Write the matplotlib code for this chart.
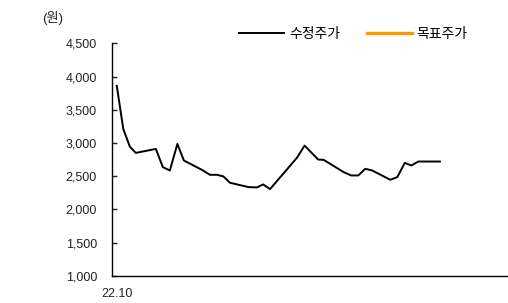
import pandas as pd
import matplotlib
matplotlib.use("Agg")
import matplotlib.pyplot as plt

plt.rcParams['font.family'] = ['Liberation Sans', 'Noto Sans CJK KR', 'DejaVu Sans']

# 수정주가 (adjusted price)
dates = ["2022-10-03", "2022-10-16", "2022-10-29", "2022-11-10", "2022-12-20",
         "2023-01-03", "2023-01-17", "2023-02-01", "2023-02-14", "2023-03-22",
         "2023-04-07", "2023-04-21", "2023-05-04", "2023-05-17", "2023-06-23",
         "2023-07-10", "2023-07-22", "2023-08-05", "2023-09-28", "2023-10-13",
         "2023-11-09", "2023-11-20", "2023-12-30", "2024-01-14", "2024-01-28",
         "2024-02-11", "2024-02-25", "2024-04-01", "2024-04-15", "2024-04-30",
         "2024-05-13", "2024-05-27", "2024-07-09"]
price = [3860, 3210, 2945, 2850, 2910,
         2635, 2585, 2985, 2735, 2595,
         2520, 2520, 2495, 2400, 2335,
         2330, 2375, 2305, 2780, 2960,
         2750, 2745, 2560, 2510, 2510,
         2610, 2585, 2445, 2485, 2700,
         2660, 2720, 2720]
# 목표주가 (target price) - no values shown
target_dates = []
target = []

x_start = "2022-09-24"
x_end = "2024-11-22"
y_ticks = [1000, 1500, 2000, 2500, 3000, 3500, 4000, 4500]

fig = plt.figure(figsize=(5.08, 3.03), dpi=100)
ax = fig.add_axes([0.221, 0.090, 0.779, 0.767])

ax.plot(pd.to_datetime(dates), price, color='black', lw=1.4, label='수정주가')
ax.plot(pd.to_datetime(target_dates), target, color='#FF9900', lw=2.4, label='목표주가')

ax.set_xlim(pd.Timestamp(x_start), pd.Timestamp(x_end))
ax.set_ylim(1000, 4500)
ax.set_yticks(y_ticks)
ax.set_yticklabels([f"{v:,}" for v in y_ticks])
ax.set_xticks([pd.Timestamp(dates[0])])
ax.set_xticklabels(["22.10"])

ax.spines['top'].set_visible(False)
ax.spines['right'].set_visible(False)
ax.spines['left'].set_linewidth(1.0)
ax.spines['bottom'].set_linewidth(1.0)
ax.tick_params(axis='y', direction='in', length=3.6, width=1.0, pad=11, labelsize=9, colors='#222222')
ax.tick_params(axis='x', length=0, pad=8.5, labelsize=9, colors='#222222')

fig.text(0.082, 0.94, "(원)", fontsize=9.5, ha='left', va='center', color='#222222')

fig.legend(loc='center', bbox_to_anchor=(0.6955, 0.887), ncol=2, frameon=False,
           fontsize=10, handlelength=3.25, handletextpad=0.36, columnspacing=1.9)

fig.savefig("out.png", dpi=100)
